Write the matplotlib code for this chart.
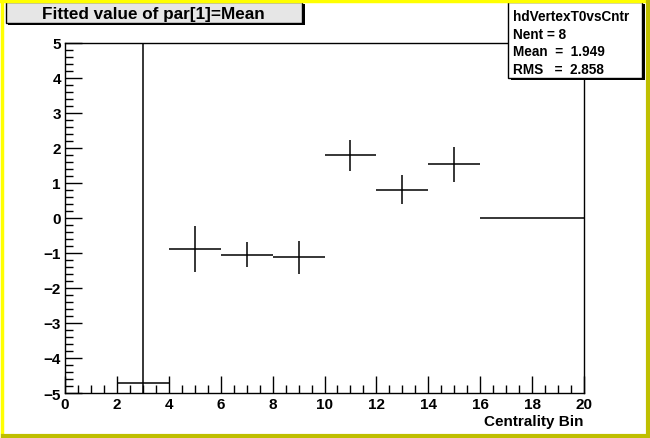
import matplotlib
matplotlib.use('Agg')
import matplotlib.pyplot as plt
from matplotlib.patches import Rectangle
from matplotlib.lines import Line2D
from matplotlib.ticker import MultipleLocator

# centrality bins (width 2) and fitted means
bin_centers = [3, 5, 7, 9, 11, 13, 15, 17, 19]
means = [-4.72, -0.90, -1.05, -1.13, 1.78, 0.80, 1.52, 0.0, 0.0]
mean_errors = [11.0, 0.66, 0.35, 0.47, 0.44, 0.42, 0.49, 0.0, 0.0]
bin_half_width = 1.0

title = 'Fitted value of par[1]=Mean'
stats_lines = ['hdVertexT0vsCntr', 'Nent = 8', 'Mean  =  1.949', 'RMS   =  2.858']

plt.rcParams['font.family'] = ['Liberation Sans', 'DejaVu Sans']
plt.rcParams['font.weight'] = 'bold'

W, H = 650, 439
fig = plt.figure(figsize=(W / 100, H / 100), dpi=100)
fig.patch.set_facecolor('white')

ax = fig.add_axes([65 / W, 1 - 394 / H, (584 - 65) / W, (394 - 43.5) / H])
ax.errorbar(bin_centers, means, xerr=bin_half_width, yerr=mean_errors,
            fmt='none', ecolor='black', elinewidth=1.1, capsize=0)

ax.set_xlim(0, 20)
ax.set_ylim(-5, 5)
ax.xaxis.set_major_locator(MultipleLocator(2))
ax.xaxis.set_minor_locator(MultipleLocator(0.5))
ax.yaxis.set_major_locator(MultipleLocator(1))
ax.yaxis.set_minor_locator(MultipleLocator(0.2))
ax.tick_params(which='both', direction='in', top=False, right=False, width=1)
ax.tick_params(which='major', length=12, labelsize=11, pad=3)
ax.tick_params(which='minor', length=6)
for lab in ax.get_xticklabels() + ax.get_yticklabels():
    lab.set_fontweight('bold')
for sp in ax.spines.values():
    sp.set_linewidth(1)

fig.text(584 / W, 1 - 422 / H, 'Centrality Bin', ha='right', va='center',
         fontsize=11, fontweight='bold')

# title box with shadow
fig.add_artist(Rectangle((8 / W, 1 - 26 / H), 297 / W, 21 / H,
                         transform=fig.transFigure, facecolor='black', edgecolor='none'))
fig.add_artist(Rectangle((6 / W, 1 - 23.5 / H), 296 / W, 20.5 / H,
                         transform=fig.transFigure, facecolor='#e6e6e6',
                         edgecolor='black', linewidth=1))
fig.text(153 / W, 1 - 14 / H, title, ha='center', va='center',
         fontsize=12.3, fontweight='bold')

# stats box with shadow
fig.add_artist(Rectangle((511 / W, 1 - 81 / H), 134 / W, 76 / H,
                         transform=fig.transFigure, facecolor='black', edgecolor='none'))
fig.add_artist(Rectangle((508 / W, 1 - 78.5 / H), 134 / W, 75.5 / H,
                         transform=fig.transFigure, facecolor='white',
                         edgecolor='black', linewidth=1))
for i, line in enumerate(stats_lines):
    fig.text(513 / W, 1 - (17 + i * 17.7) / H, line, ha='left', va='center',
             fontsize=9.8, fontweight='bold')

# canvas border: light top/left, dark bottom/right
fig.add_artist(Line2D([1.5 / W, 1.5 / W], [0, 1], transform=fig.transFigure,
                      color='#ffff00', linewidth=2.5))
fig.add_artist(Line2D([0, 1], [1 - 1.5 / H, 1 - 1.5 / H], transform=fig.transFigure,
                      color='#ffff00', linewidth=2.5))
fig.add_artist(Line2D([1 - 2 / W, 1 - 2 / W], [0, 1 - 3 / H], transform=fig.transFigure,
                      color='#bfbf00', linewidth=3))
fig.add_artist(Line2D([3 / W, 1], [2 / H, 2 / H], transform=fig.transFigure,
                      color='#bfbf00', linewidth=3))

fig.savefig('out.png', dpi=100)
